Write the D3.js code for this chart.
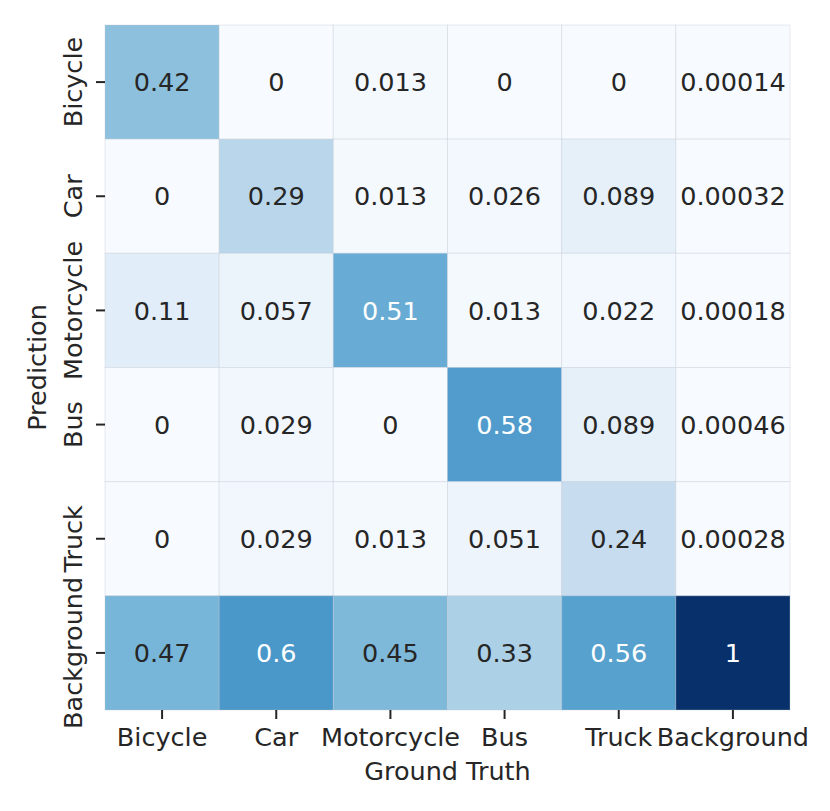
<!DOCTYPE html>
<html lang="en">
<head>
    <meta charset="UTF-8">
    <title>Confusion Matrix</title>
    <style>
        body { margin: 0; background: white; }
        text { font-family: "DejaVu Sans", sans-serif; }
        .tick text { font-size: 25.5px; fill: #262626; }
        .tick line { stroke: #262626; stroke-width: 2; }
        .axis-label { font-size: 25.5px; fill: #262626; }
        .annot { font-size: 25.5px; }
    </style>
</head>
<body>
    <svg width="830" height="811"></svg>
    <script src="https://d3js.org/d3.v7.min.js"></script>
    <script>

        // Classes on both axes
        const categories = ['Bicycle', 'Car', 'Motorcycle', 'Bus', 'Truck', 'Background'];

        // One array per predicted class (rows), values per ground truth class (columns)
        const bicycleRow    = [0.42, 0, 0.013, 0, 0, 0.00014];
        const carRow        = [0, 0.29, 0.013, 0.026, 0.089, 0.00032];
        const motorcycleRow = [0.11, 0.057, 0.51, 0.013, 0.022, 0.00018];
        const busRow        = [0, 0.029, 0, 0.58, 0.089, 0.00046];
        const truckRow      = [0, 0.029, 0.013, 0.051, 0.24, 0.00028];
        const backgroundRow = [0.47, 0.6, 0.45, 0.33, 0.56, 1];

        const rows = [bicycleRow, carRow, motorcycleRow, busRow, truckRow, backgroundRow];

        const xLabel = 'Ground Truth';
        const yLabel = 'Prediction';

        // Plot area
        const margin = { left: 105, top: 25 };
        const innerWidth = 685;
        const innerHeight = 685;

        const svg = d3.select('svg');
        const group = svg.append('g')
            .attr('transform', 'translate(' + margin.left + ' ' + margin.top + ')');

        const xScale = d3.scaleBand().domain(categories).range([0, innerWidth]).padding(0);
        const yScale = d3.scaleBand().domain(categories).range([0, innerHeight]).padding(0);

        // matplotlib "Blues" is a linear ramp through these colorbrewer stops
        const bluesStops = ['#f7fbff', '#deebf7', '#c6dbef', '#9ecae1', '#6baed6',
                            '#4292c6', '#2171b5', '#08519c', '#08306b'];
        const color = d3.scaleLinear()
            .domain(bluesStops.map(function (d, i) { return i / (bluesStops.length - 1); }))
            .range(bluesStops)
            .interpolate(d3.interpolateRgb)
            .clamp(true);

        // seaborn picks text colour by relative luminance of the cell
        const luminance = function (c) {
            const rgb = d3.rgb(c);
            const lin = [rgb.r, rgb.g, rgb.b].map(function (v) {
                v = v / 255;
                return v <= 0.03928 ? v / 12.92 : Math.pow((v + 0.055) / 1.055, 2.4);
            });
            return 0.2126 * lin[0] + 0.7152 * lin[1] + 0.0722 * lin[2];
        };

        const fmt = d3.format('.2~g');

        const cells = [];
        rows.forEach(function (row, i) {
            row.forEach(function (v, j) {
                cells.push({ pred: categories[i], truth: categories[j], value: v });
            });
        });

        group.selectAll('rect.cell')
            .data(cells)
            .enter()
            .append('rect')
            .attr('class', 'cell')
            .attr('x', function (d) { return xScale(d.truth); })
            .attr('y', function (d) { return yScale(d.pred); })
            .attr('width', xScale.bandwidth())
            .attr('height', yScale.bandwidth())
            .attr('fill', function (d) { return color(d.value); })
            .attr('stroke', 'rgba(190, 198, 210, 0.35)')
            .attr('stroke-width', 1);

        group.selectAll('text.annot')
            .data(cells)
            .enter()
            .append('text')
            .attr('class', 'annot')
            .attr('x', function (d) { return xScale(d.truth) + xScale.bandwidth() / 2; })
            .attr('y', function (d) { return yScale(d.pred) + yScale.bandwidth() / 2; })
            .attr('dy', '0.36em')
            .attr('text-anchor', 'middle')
            .attr('fill', function (d) {
                return luminance(color(d.value)) > 0.408 ? '#262626' : '#ffffff';
            })
            .text(function (d) { return fmt(d.value); });

        // x axis
        const xAxisG = group.append('g')
            .attr('transform', 'translate(0 ' + innerHeight + ')')
            .call(d3.axisBottom(xScale).tickSize(9).tickPadding(9));
        xAxisG.select('.domain').remove();
        xAxisG.selectAll('.tick text').attr('font-family', null).attr('font-size', null);

        // y axis, labels turned on their side
        const yAxisG = group.append('g')
            .call(d3.axisLeft(yScale).tickSize(9));
        yAxisG.select('.domain').remove();
        yAxisG.selectAll('.tick text')
            .attr('font-family', null)
            .attr('font-size', null)
            .attr('x', 0)
            .attr('y', -23)
            .attr('dy', 0)
            .attr('transform', 'rotate(-90)')
            .attr('text-anchor', 'middle');

        svg.selectAll('g').attr('font-family', null).attr('font-size', null);

        // Axis titles
        svg.append('text')
            .attr('class', 'axis-label')
            .attr('x', margin.left + innerWidth / 2)
            .attr('y', 780)
            .attr('text-anchor', 'middle')
            .text(xLabel);

        svg.append('text')
            .attr('class', 'axis-label')
            .attr('transform', 'translate(46 ' + (margin.top + innerHeight / 2) + ') rotate(-90)')
            .attr('text-anchor', 'middle')
            .text(yLabel);

    </script>
</body>
</html>
